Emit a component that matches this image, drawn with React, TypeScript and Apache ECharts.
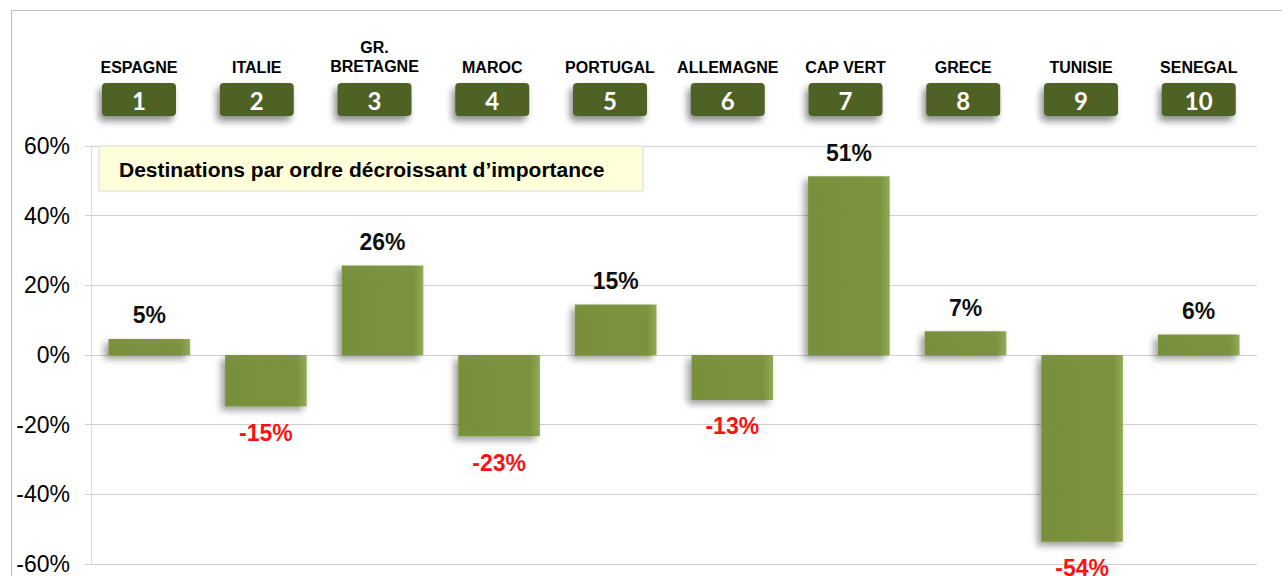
import React, { useEffect, useRef } from "react";
import * as echarts from "echarts";

const countries = [
  "ESPAGNE",
  "ITALIE",
  "GR.\nBRETAGNE",
  "MAROC",
  "PORTUGAL",
  "ALLEMAGNE",
  "CAP VERT",
  "GRECE",
  "TUNISIE",
  "SENEGAL",
];
const ranks = ["1", "2", "3", "4", "5", "6", "7", "8", "9", "10"];
const growth = [4.6, -14.8, 25.7, -23.3, 14.5, -12.9, 51.3, 6.8, -53.6, 5.9];
const yMin = -60;
const yMax = 60;
const yStep = 20;
const noteText = "Destinations par ordre décroissant d’importance";

export default function App() {
  const ref = useRef<HTMLDivElement>(null);

  useEffect(() => {
    if (!ref.current) return;
    const chart = echarts.init(ref.current, undefined, { renderer: "svg" });

    const headerStart = 139;
    const headerStep = 117.75;
    const header: any[] = [];
    countries.forEach((name, i) => {
      const cx = headerStart + i * headerStep;
      const lines = name.split("\n").length;
      header.push({
        type: "text",
        x: cx,
        y: 67 - (lines - 1) * 10,
        style: {
          text: name,
          fill: "#000",
          font: "bold 16px Arial, 'Liberation Sans', sans-serif",
          align: "center",
          verticalAlign: "middle",
          lineHeight: 19,
        },
        z: 10,
      });
      header.push({
        type: "rect",
        x: cx - 37,
        y: 83,
        shape: { width: 74, height: 33, r: 4 },
        style: {
          fill: "#4f6228",
          shadowColor: "rgba(0,0,0,0.45)",
          shadowBlur: 7,
          shadowOffsetX: -3,
          shadowOffsetY: 5,
        },
        z: 10,
      });
      header.push({
        type: "text",
        x: cx,
        y: 100,
        style: {
          text: ranks[i],
          fill: "#fff",
          font: "bold 24px Lato, 'Open Sans', sans-serif",
          align: "center",
          verticalAlign: "middle",
        },
        z: 11,
      });
    });

    const option: any = {
      animation: false,
      backgroundColor: "#fff",
      grid: { left: 91, right: 25, top: 146, bottom: 12, containLabel: false },
      xAxis: {
        type: "category",
        data: countries,
        axisLabel: { show: false },
        axisTick: { show: false },
        axisLine: { show: false },
      },
      yAxis: {
        type: "value",
        min: yMin,
        max: yMax,
        interval: yStep,
        axisLabel: {
          formatter: "{value}%",
          fontSize: 23,
          color: "#000",
          fontFamily: "Arial, 'Liberation Sans', sans-serif",
          margin: 21,
        },
        axisLine: { show: true, lineStyle: { color: "#d9d9d9", width: 1 } },
        axisTick: { show: true, length: 6, lineStyle: { color: "#d0d0d0" } },
        splitLine: { lineStyle: { color: "#d0d0d0", width: 1 } },
      },
      series: [
        {
          type: "bar",
          barCategoryGap: "30%",
          data: growth.map((v) => ({
            value: v,
            label: {
              position: v >= 0 ? "top" : "bottom",
              color: v >= 0 ? "#000" : "#ff0000",
              distance: v >= 0 ? 12 : 15,
            },
          })),
          itemStyle: {
            opacity: 0.94,
            color: {
              type: "linear",
              x: 0,
              y: 0,
              x2: 1,
              y2: 0,
              colorStops: [
                { offset: 0, color: "#758d34" },
                { offset: 0.88, color: "#788f37" },
                { offset: 1, color: "#8ba74c" },
              ],
            },
            shadowColor: "rgba(0,0,0,0.4)",
            shadowBlur: 7,
            shadowOffsetX: -4,
            shadowOffsetY: 4,
          },
          label: {
            show: true,
            fontSize: 23,
            fontWeight: "bold",
            fontFamily: "Arial, 'Liberation Sans', sans-serif",
            formatter: (p: any) => Math.round(p.value) + "%",
          },
        },
      ],
      graphic: [
        {
          type: "line",
          shape: { x1: 11, y1: 10.5, x2: 1282, y2: 10.5 },
          style: { stroke: "#bfbfbf", lineWidth: 1 },
          z: 5,
        },
        {
          type: "line",
          shape: { x1: 11.5, y1: 10, x2: 11.5, y2: 576 },
          style: { stroke: "#bfbfbf", lineWidth: 1 },
          z: 5,
        },
        {
          type: "rect",
          x: 99,
          y: 146,
          shape: { width: 544, height: 45 },
          style: { fill: "#ffffd9", stroke: "#d9d9d9", lineWidth: 1 },
          z: 10,
        },
        {
          type: "text",
          x: 119,
          y: 169,
          style: {
            text: noteText,
            fill: "#000",
            font: "bold 21px Arial, 'Liberation Sans', sans-serif",
            verticalAlign: "middle",
          },
          z: 11,
        },
        ...header,
      ],
    };

    chart.setOption(option);
    return () => chart.dispose();
  }, []);

  return (
    <div
      ref={ref}
      style={{ position: "fixed", left: 0, top: 0, width: 1282, height: 576 }}
    />
  );
}
